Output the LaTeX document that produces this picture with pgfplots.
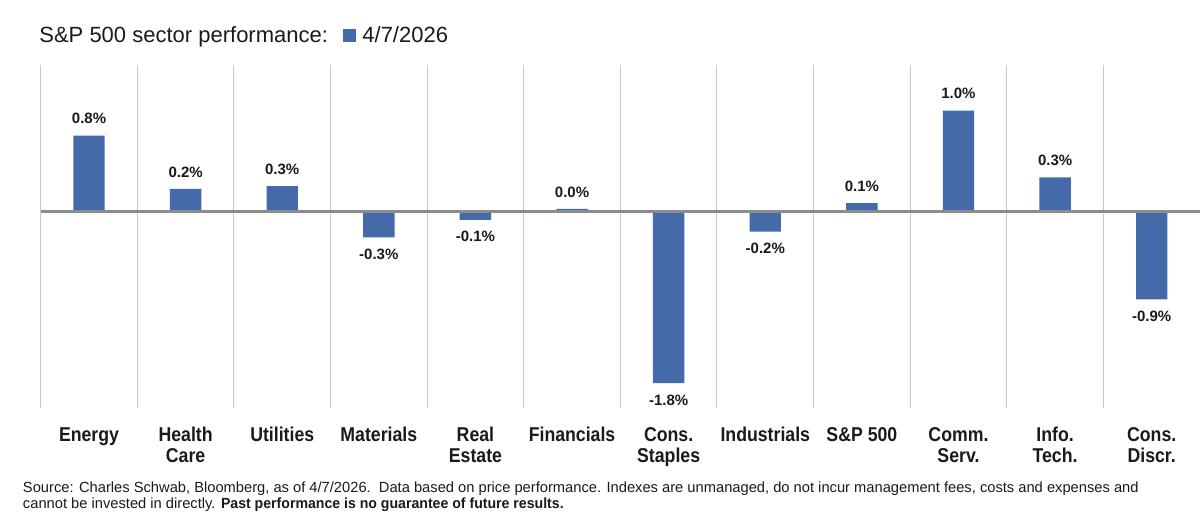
\documentclass[border=0pt]{standalone}
\usepackage{pgfplots}
\pgfplotsset{compat=1.18}
\usepackage{fontspec}
\setmainfont{Liberation Sans}
\newfontfamily\catfont[FakeStretch=0.885]{Liberation Sans}
\newfontfamily\footbold[FakeStretch=0.96]{Liberation Sans}
\definecolor{barblue}{HTML}{446AAA}
\definecolor{zerogray}{HTML}{8C8C8C}
\definecolor{gridgray}{HTML}{C8C8C8}
\definecolor{txt}{HTML}{1A1A1A}
\begin{document}
\begin{tikzpicture}
\useasboundingbox (0,0) rectangle (600pt,262pt);
\begin{axis}[
  at={(20.35pt,58pt)}, anchor=south west,
  scale only axis, width=579.65pt, height=171.5pt,
  xmin=0.5, xmax=12.5, ymin=-2.06, ymax=1.54,
  enlargelimits=false,
  ybar, bar width=15.7pt, bar shift=0pt,
  axis line style={draw=none},
  major tick length=0pt, minor tick length=0pt,
  ytick=\empty,
  xtick={1,...,12},
  xticklabels={{\strut Energy},{\strut Health\\Care},{\strut Utilities},{\strut Materials},{\strut Real\\Estate},{\strut Financials},{\strut Cons.\\Staples},{\strut Industrials},{\strut S\&P 500},{\strut Comm.\\Serv.},{\strut Info.\\Tech.},{\strut Cons.\\Discr.}},
  xticklabel style={font=\catfont\bfseries\fontsize{10}{10.5}\selectfont, align=center, anchor=north, inner sep=0pt, yshift=-9.15pt, text=txt},
  minor xtick={0.5,1.5,...,11.5},
  xminorgrids=true,
  minor grid style={gridgray, line width=0.5pt},
  clip=false,
]
% positive values
\addplot[fill=barblue, draw=none,
  nodes near coords, point meta=explicit symbolic,
  every node near coord/.append style={font=\bfseries\fontsize{7.5}{9}\selectfont, inner sep=5.6pt, text=txt, anchor=south}]
coordinates {
  (1,0.80) [0.8\%]
  (2,0.24) [0.2\%]
  (3,0.27) [0.3\%]
  (6,0.03) [0.0\%]
  (9,0.09) [0.1\%]
  (10,1.06) [1.0\%]
  (11,0.36) [0.3\%]
};
% negative values
\addplot[fill=barblue, draw=none,
  nodes near coords, point meta=explicit symbolic,
  every node near coord/.append style={font=\bfseries\fontsize{7.5}{9}\selectfont, inner sep=5.6pt, text=txt, anchor=north}]
coordinates {
  (4,-0.27) [-0.3\%]
  (5,-0.085) [-0.1\%]
  (7,-1.80) [-1.8\%]
  (8,-0.21) [-0.2\%]
  (12,-0.92) [-0.9\%]
};
\draw[zerogray, line width=1.25pt] (axis cs:0.5,0) -- (axis cs:12.5,0);
\end{axis}
\node[anchor=base west, inner sep=0pt, font=\fontsize{11}{13}\selectfont, text=txt] at (19.5pt,240.75pt) {S\&P 500 sector performance:};
\fill[barblue] (171.5pt,241.15pt) rectangle ++(6.5pt,6.5pt);
\node[anchor=base west, inner sep=0pt, font=\fontsize{11}{13}\selectfont, text=txt] at (181pt,240.75pt) {4/7/2026};
\node[anchor=base west, inner sep=0pt, font=\fontsize{7.35}{9}\selectfont, text=txt] at (11.3pt,15.85pt) {Source: Charles Schwab, Bloomberg, as of 4/7/2026.\ \ Data based on price performance. Indexes are unmanaged, do not incur management fees, costs and expenses and};
\node[anchor=base west, inner sep=0pt, font=\fontsize{7.35}{9}\selectfont, text=txt] at (11.3pt,7.5pt) {cannot be invested in directly. {\footbold\bfseries Past performance is no guarantee of future results.}};
\end{tikzpicture}
\end{document}
